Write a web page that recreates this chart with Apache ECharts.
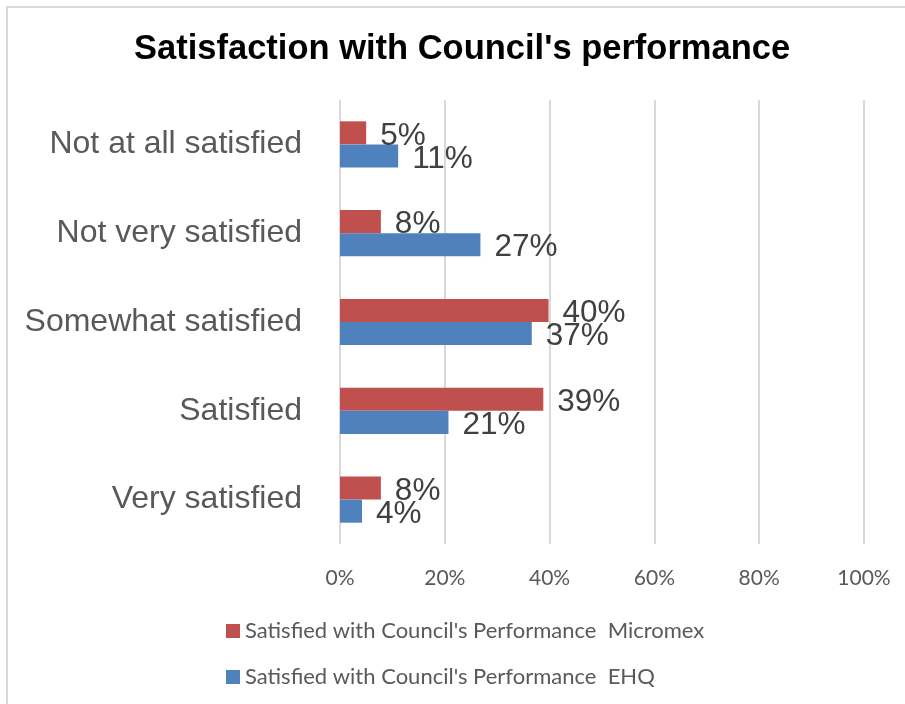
<!DOCTYPE html>
<html>
<head>
<meta charset="utf-8">
<script src="https://cdn.jsdelivr.net/npm/echarts@6/dist/echarts.min.js"></script>
<style>
html,body{margin:0;padding:0;background:#fff;}
#frame{position:absolute;left:6px;top:6px;width:920px;height:720px;border-left:2px solid #d9d9d9;border-top:2px solid #d9d9d9;}
#chart{position:absolute;left:0;top:0;width:905px;height:704px;}
</style>
</head>
<body>
<div id="frame"></div>
<div id="chart"></div>
<script>
const categories = ["Not at all satisfied", "Not very satisfied", "Somewhat satisfied", "Satisfied", "Very satisfied"];
const micromex = [5.0, 7.8, 39.8, 38.8, 7.8];
const ehq = [11.1, 26.8, 36.6, 20.7, 4.2];
const seriesNames = ["Satisfied with Council's Performance  Micromex", "Satisfied with Council's Performance  EHQ"];
const xTicks = [0, 20, 40, 60, 80, 100];

const chart = echarts.init(document.getElementById('chart'), null, {renderer: 'canvas'});
const labelCfg = {
  show: true, position: 'right', distance: 14, offset: [0, 3],
  fontFamily: 'Liberation Sans, Arial, sans-serif', fontSize: 31.5, color: '#404040',
  formatter: p => Math.round(p.value) + '%'
};
chart.setOption({
  backgroundColor: 'transparent',
  animation: false,
  title: {
    text: "Satisfaction with Council's performance",
    left: 129, top: 27,
    textStyle: {fontFamily: 'Liberation Sans, Arial, sans-serif', fontWeight: 'bold', fontSize: 34.5, color: '#000'}
  },
  legend: {
    orient: 'vertical', left: 221, top: 615, itemGap: 24,
    itemWidth: 14, itemHeight: 14, icon: 'rect',
    textStyle: {fontFamily: 'Lato, sans-serif', fontSize: 22, color: '#595959'},
    data: seriesNames
  },
  grid: {left: 340, right: 41, top: 100, bottom: 160, containLabel: false},
  xAxis: {
    type: 'value', min: 0, max: 100, interval: 20,
    axisLine: {show: false}, axisTick: {show: false},
    splitLine: {show: true, lineStyle: {color: '#d9d9d9', width: 2}},
    axisLabel: {margin: 24, fontFamily: 'Lato, sans-serif', fontSize: 21, color: '#595959', formatter: v => v + '%'}
  },
  yAxis: {
    type: 'category', data: categories, inverse: true,
    axisLine: {show: false}, axisTick: {show: false},
    axisLabel: {margin: 38, fontFamily: 'Liberation Sans, Arial, sans-serif', fontSize: 32, color: '#595959', padding: [4, 0, 0, 0]}
  },
  series: [
    {name: seriesNames[0], type: 'bar', data: micromex, barGap: '0%', barCategoryGap: '48%',
     itemStyle: {color: '#c0504d'}, label: labelCfg},
    {name: seriesNames[1], type: 'bar', data: ehq, barGap: '0%', barCategoryGap: '48%',
     itemStyle: {color: '#4f81bd'}, label: labelCfg}
  ]
});
</script>
</body>
</html>
